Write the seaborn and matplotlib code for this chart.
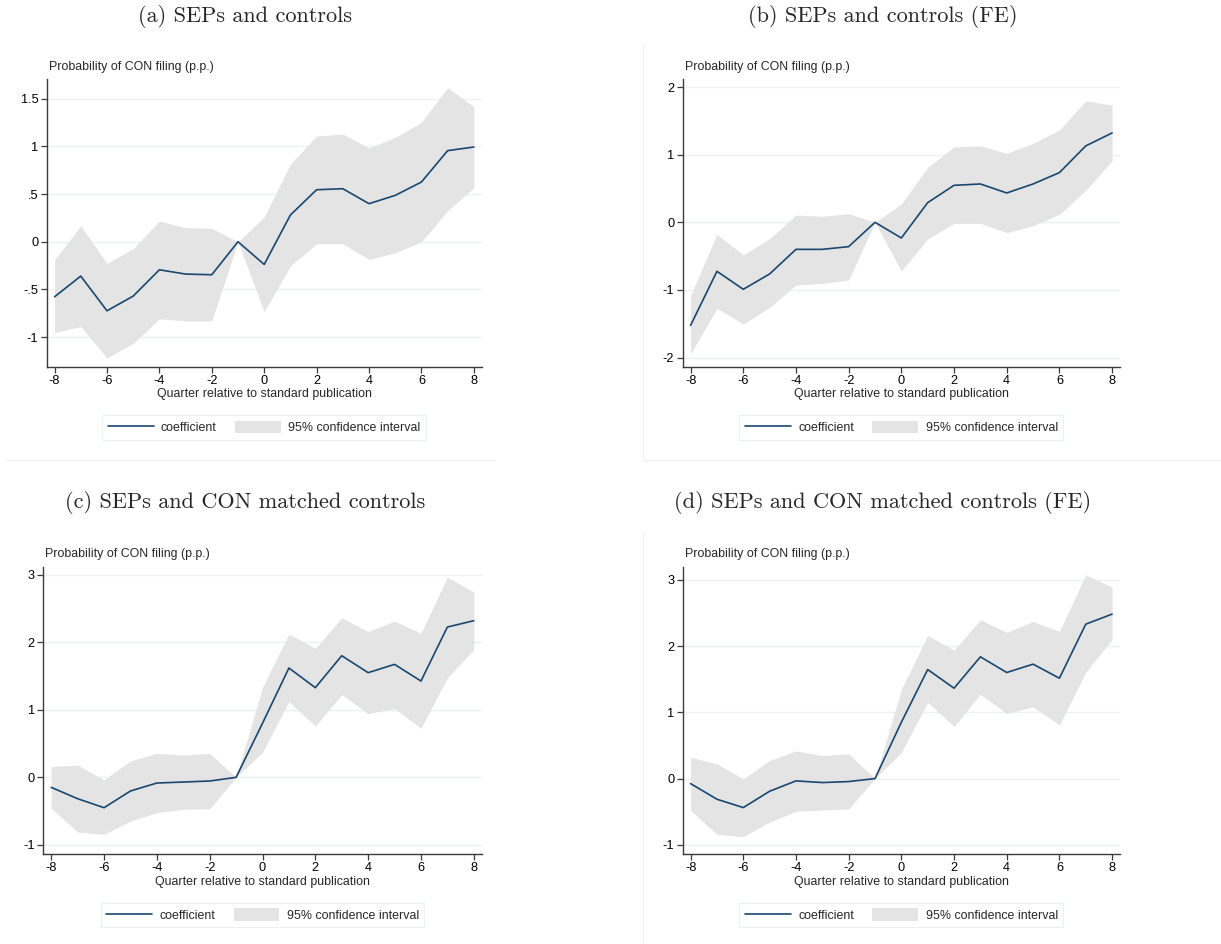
import matplotlib
matplotlib.use("Agg")
import matplotlib.pyplot as plt
from matplotlib.lines import Line2D
from matplotlib.patches import Patch
import seaborn as sns
import pandas as pd

sns.set_theme(style="white")
plt.rcParams['font.family'] = ['Liberation Sans', 'DejaVu Sans']

quarters = list(range(-8, 9))

titles = ["(a) SEPs and controls",
          "(b) SEPs and controls (FE)",
          "(c) SEPs and CON matched controls",
          "(d) SEPs and CON matched controls (FE)"]

coef_a = [-0.577, -0.36, -0.724, -0.57, -0.294, -0.339, -0.346, 0.0, -0.238,
          0.28, 0.545, 0.556, 0.399, 0.486, 0.626, 0.955, 0.993]
hi_a = [-0.19, 0.168, -0.227, -0.073, 0.217, 0.147, 0.14, 0.0, 0.259,
        0.815, 1.108, 1.129, 0.983, 1.094, 1.252, 1.615, 1.416]
lo_a = [-0.951, -0.888, -1.217, -1.066, -0.808, -0.829, -0.829, 0.0, -0.734,
        -0.252, -0.021, -0.021, -0.185, -0.115, 0.0, 0.325, 0.566]

coef_b = [-1.524, -0.725, -0.991, -0.764, -0.40, -0.40, -0.36, 0.0, -0.232,
          0.291, 0.547, 0.567, 0.434, 0.567, 0.735, 1.13, 1.322]
hi_b = [-1.08, -0.178, -0.483, -0.242, 0.108, 0.089, 0.128, 0.0, 0.271,
        0.814, 1.115, 1.13, 1.02, 1.169, 1.366, 1.795, 1.736]
lo_b = [-1.948, -1.272, -1.504, -1.258, -0.927, -0.903, -0.853, 0.0, -0.72,
        -0.247, -0.015, -0.015, -0.153, -0.049, 0.118, 0.473, 0.908]

coef_c = [-0.148, -0.316, -0.449, -0.202, -0.084, -0.069, -0.054, 0.0, 0.80,
          1.618, 1.327, 1.80, 1.549, 1.672, 1.425, 2.224, 2.318]
hi_c = [0.158, 0.182, -0.039, 0.242, 0.355, 0.33, 0.355, 0.0, 1.332,
        2.121, 1.909, 2.362, 2.155, 2.313, 2.131, 2.964, 2.742]
lo_c = [-0.459, -0.809, -0.843, -0.646, -0.523, -0.473, -0.464, 0.0, 0.37,
        1.12, 0.76, 1.228, 0.942, 1.021, 0.725, 1.475, 1.889]

coef_d = [-0.076, -0.312, -0.438, -0.191, -0.035, -0.06, -0.045, 0.0, 0.851,
          1.647, 1.365, 1.839, 1.602, 1.728, 1.516, 2.332, 2.484]
hi_d = [0.322, 0.222, -0.005, 0.272, 0.418, 0.348, 0.373, 0.0, 1.35,
        2.161, 1.94, 2.398, 2.207, 2.373, 2.222, 3.078, 2.892]
lo_d = [-0.484, -0.841, -0.877, -0.655, -0.494, -0.474, -0.458, 0.0, 0.393,
        1.154, 0.786, 1.275, 0.982, 1.083, 0.811, 1.607, 2.101]

yticks_a = [-1, -0.5, 0, 0.5, 1, 1.5]
ylabels_a = ["-1", "-.5", "0", ".5", "1", "1.5"]
yticks_b = [-2, -1, 0, 1, 2]
ylabels_b = ["-2", "-1", "0", "1", "2"]
yticks_cd = [-1, 0, 1, 2, 3]
ylabels_cd = ["-1", "0", "1", "2", "3"]
xticks = [-8, -6, -4, -2, 0, 2, 4, 6, 8]

y_title = "Probability of CON filing (p.p.)"
x_title = "Quarter relative to standard publication"
legend_labels = ["coefficient", "95% confidence interval"]

W, H = 1221, 944
fig = plt.figure(figsize=(W / 100, H / 100), dpi=100)
fig.patch.set_facecolor("white")

NAVY = "#1a476f"
CIFILL = "#e4e4e4"
GRID = "#eaf2f3"
AXC = "#3a3a3a"
FS_LAB = 8.9
FS_TICK = 9.2
FS_LEG = 8.9


def px_rect(left, top, right, bottom):
    return [left / W, 1 - bottom / H, (right - left) / W, (bottom - top) / H]


panels = [
    dict(title=titles[0], coef=coef_a, lo=lo_a, hi=hi_a, yt=yticks_a, yl=ylabels_a,
         ylim=(-1.31, 1.706), box=(46.7, 79, 481.7, 366.7), tx=245, ty=16, lx=49, ly=67),
    dict(title=titles[1], coef=coef_b, lo=lo_b, hi=hi_b, yt=yticks_b, yl=ylabels_b,
         ylim=(-2.136, 2.12), box=(682.7, 79, 1120, 366.7), tx=883, ty=16, lx=685, ly=67),
    dict(title=titles[2], coef=coef_c, lo=lo_c, hi=hi_c, yt=yticks_cd, yl=ylabels_cd,
         ylim=(-1.134, 3.117), box=(43.3, 566.7, 481.7, 854), tx=245, ty=503, lx=45.3, ly=554.3),
    dict(title=titles[3], coef=coef_d, lo=lo_d, hi=hi_d, yt=yticks_cd, yl=ylabels_cd,
         ylim=(-1.139, 3.2), box=(682.7, 566.7, 1120, 854), tx=883, ty=503, lx=685, ly=554.3),
]

for p in panels:
    l, t, r, b = p["box"]
    ax = fig.add_axes(px_rect(l, t, r, b))
    df = pd.DataFrame({"quarter": quarters, "coef": p["coef"], "lo": p["lo"], "hi": p["hi"]})
    ax.fill_between(df["quarter"], df["lo"], df["hi"], color=CIFILL, linewidth=0, zorder=1)
    sns.lineplot(data=df, x="quarter", y="coef", ax=ax, color=NAVY, linewidth=1.2,
                 zorder=3, legend=False)
    ax.set_xlim(-8.3, 8.3)
    ax.set_ylim(*p["ylim"])
    ax.set_xticks(xticks)
    ax.set_xticklabels([str(v) for v in xticks], fontsize=FS_TICK)
    ax.set_yticks(p["yt"])
    ax.set_yticklabels(p["yl"], fontsize=FS_TICK)
    ax.yaxis.grid(True, color=GRID, linewidth=1.0, zorder=0)
    ax.xaxis.grid(False)
    ax.set_axisbelow(True)
    ax.set_xlabel(x_title, fontsize=FS_LAB, labelpad=1)
    ax.set_ylabel("")
    for s in ["top", "right"]:
        ax.spines[s].set_visible(False)
    for s in ["left", "bottom"]:
        ax.spines[s].set_color(AXC)
        ax.spines[s].set_linewidth(1.0)
    ax.tick_params(axis="both", direction="out", length=4, width=0.9, color=AXC,
                   pad=2, labelcolor="black", left=True, bottom=True)
    ax.set_facecolor("white")
    fig.text(p["lx"] / W, 1 - p["ly"] / H, y_title, fontsize=FS_LAB,
             ha="left", va="center")
    fig.text(p["tx"] / W, 1 - p["ty"] / H, p["title"], fontsize=16,
             family=["cmr10", "DejaVu Serif"], ha="center", va="center")
    handles = [Line2D([0], [0], color=NAVY, linewidth=1.2),
               Patch(facecolor=CIFILL, edgecolor="none")]
    cx = (l + r) / 2
    cy = b + 61
    leg = fig.legend(handles, legend_labels, loc="center",
                     bbox_to_anchor=(cx / W, 1 - cy / H), ncol=2, fontsize=FS_LEG,
                     frameon=True, fancybox=False, handlelength=3.7, handleheight=1.15,
                     handletextpad=0.6, columnspacing=1.5, borderpad=0.45)
    leg.get_frame().set_edgecolor("#e6eef0")
    leg.get_frame().set_linewidth(0.8)

# faint graph-region borders
faint = "#eef2f4"
fig.add_artist(Line2D([5 / W, 495 / W], [1 - 460 / H, 1 - 460 / H], color=faint, lw=0.8))
fig.add_artist(Line2D([643 / W, 1221 / W], [1 - 460 / H, 1 - 460 / H], color=faint, lw=0.8))
fig.add_artist(Line2D([643 / W, 643 / W], [1 - 44 / H, 1 - 460 / H], color=faint, lw=0.8))
fig.add_artist(Line2D([643 / W, 643 / W], [1 - 532 / H, 1 - 944 / H], color=faint, lw=0.8))

fig.savefig("out.png", dpi=100, facecolor="white")
